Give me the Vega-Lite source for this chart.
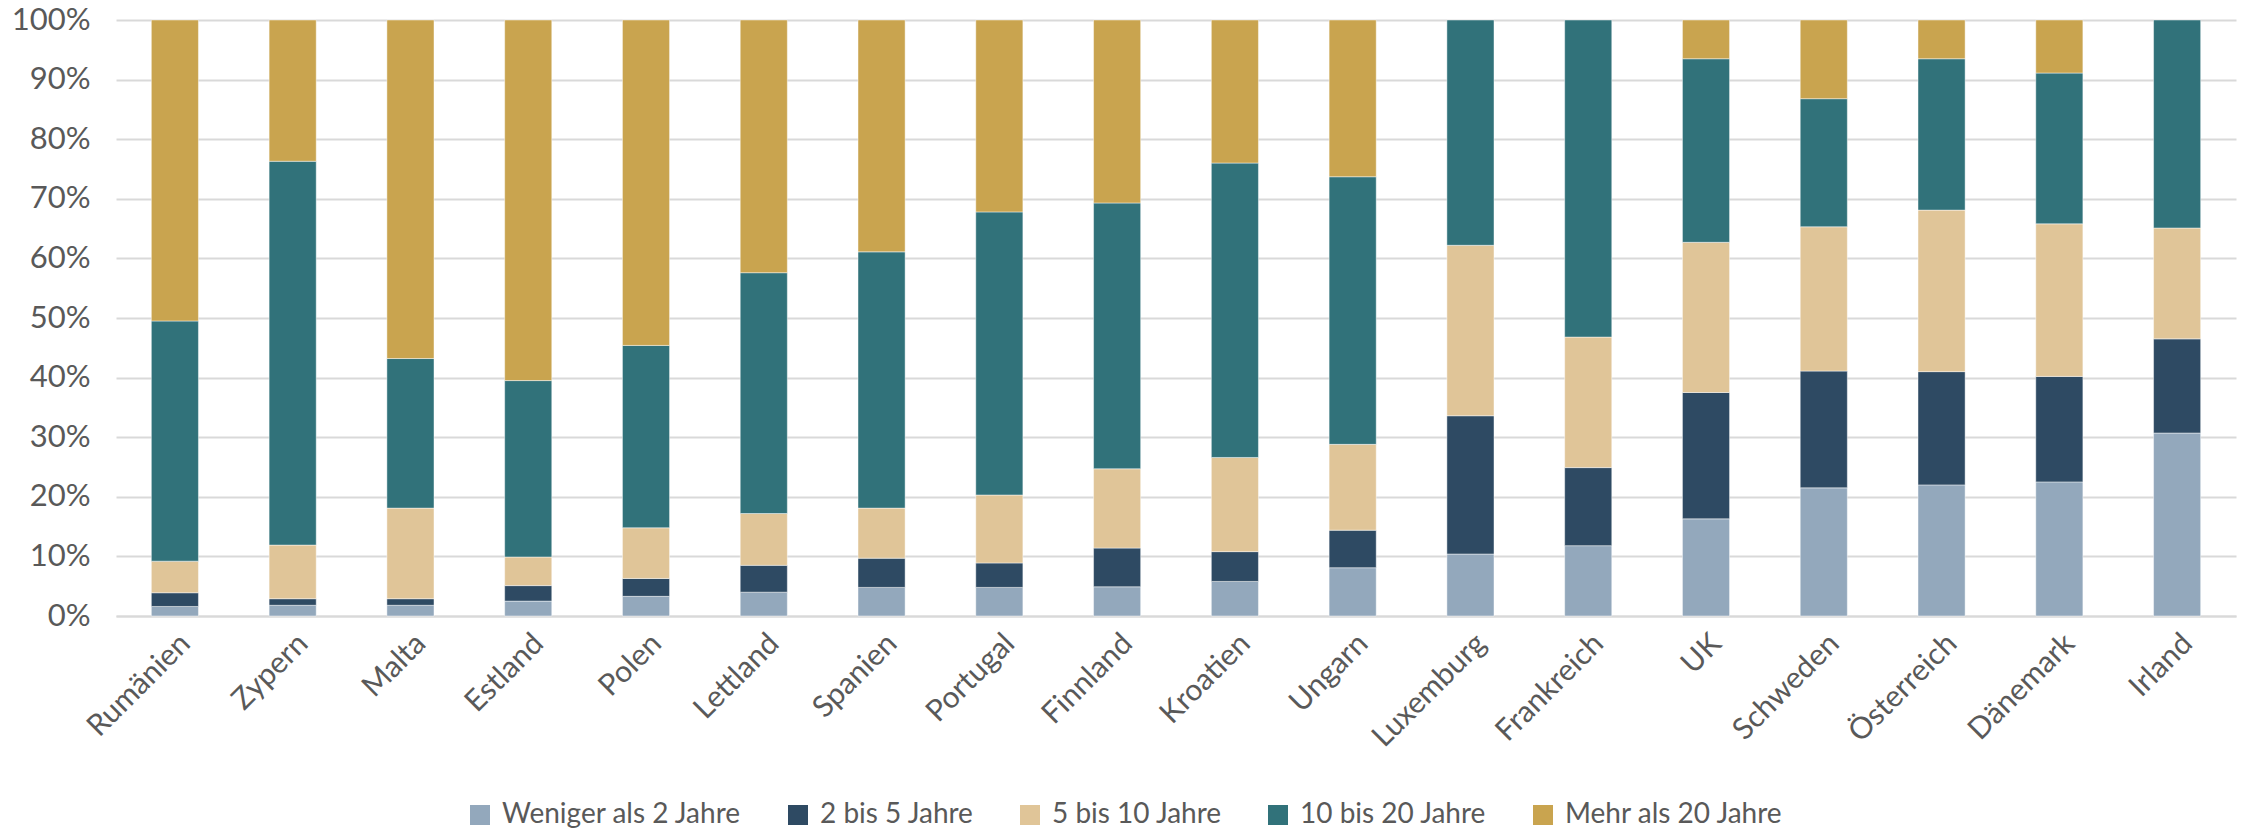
{
  "$schema": "https://vega.github.io/schema/vega-lite/v6.json",
  "width": 2120,
  "height": 596,
  "autosize": {"type": "none"},
  "padding": {"left": 116, "top": 20, "right": 10, "bottom": 214},
  "background": "white",
  "config": {"view": {"stroke": null}, "font": "Lato"},
  "data": {
    "values": [
      {"Land": "Rumänien", "Dauer": "Weniger als 2 Jahre", "Nr": 1, "Anteil": 1.6},
      {"Land": "Rumänien", "Dauer": "2 bis 5 Jahre", "Nr": 2, "Anteil": 2.3},
      {"Land": "Rumänien", "Dauer": "5 bis 10 Jahre", "Nr": 3, "Anteil": 5.3},
      {"Land": "Rumänien", "Dauer": "10 bis 20 Jahre", "Nr": 4, "Anteil": 40.3},
      {"Land": "Rumänien", "Dauer": "Mehr als 20 Jahre", "Nr": 5, "Anteil": 50.5},
      {"Land": "Zypern", "Dauer": "Weniger als 2 Jahre", "Nr": 1, "Anteil": 1.8},
      {"Land": "Zypern", "Dauer": "2 bis 5 Jahre", "Nr": 2, "Anteil": 1.1},
      {"Land": "Zypern", "Dauer": "5 bis 10 Jahre", "Nr": 3, "Anteil": 9.0},
      {"Land": "Zypern", "Dauer": "10 bis 20 Jahre", "Nr": 4, "Anteil": 64.4},
      {"Land": "Zypern", "Dauer": "Mehr als 20 Jahre", "Nr": 5, "Anteil": 23.7},
      {"Land": "Malta", "Dauer": "Weniger als 2 Jahre", "Nr": 1, "Anteil": 1.8},
      {"Land": "Malta", "Dauer": "2 bis 5 Jahre", "Nr": 2, "Anteil": 1.1},
      {"Land": "Malta", "Dauer": "5 bis 10 Jahre", "Nr": 3, "Anteil": 15.2},
      {"Land": "Malta", "Dauer": "10 bis 20 Jahre", "Nr": 4, "Anteil": 25.1},
      {"Land": "Malta", "Dauer": "Mehr als 20 Jahre", "Nr": 5, "Anteil": 56.8},
      {"Land": "Estland", "Dauer": "Weniger als 2 Jahre", "Nr": 1, "Anteil": 2.5},
      {"Land": "Estland", "Dauer": "2 bis 5 Jahre", "Nr": 2, "Anteil": 2.6},
      {"Land": "Estland", "Dauer": "5 bis 10 Jahre", "Nr": 3, "Anteil": 4.8},
      {"Land": "Estland", "Dauer": "10 bis 20 Jahre", "Nr": 4, "Anteil": 29.6},
      {"Land": "Estland", "Dauer": "Mehr als 20 Jahre", "Nr": 5, "Anteil": 60.5},
      {"Land": "Polen", "Dauer": "Weniger als 2 Jahre", "Nr": 1, "Anteil": 3.3},
      {"Land": "Polen", "Dauer": "2 bis 5 Jahre", "Nr": 2, "Anteil": 3.0},
      {"Land": "Polen", "Dauer": "5 bis 10 Jahre", "Nr": 3, "Anteil": 8.5},
      {"Land": "Polen", "Dauer": "10 bis 20 Jahre", "Nr": 4, "Anteil": 30.6},
      {"Land": "Polen", "Dauer": "Mehr als 20 Jahre", "Nr": 5, "Anteil": 54.6},
      {"Land": "Lettland", "Dauer": "Weniger als 2 Jahre", "Nr": 1, "Anteil": 4.0},
      {"Land": "Lettland", "Dauer": "2 bis 5 Jahre", "Nr": 2, "Anteil": 4.5},
      {"Land": "Lettland", "Dauer": "5 bis 10 Jahre", "Nr": 3, "Anteil": 8.7},
      {"Land": "Lettland", "Dauer": "10 bis 20 Jahre", "Nr": 4, "Anteil": 40.4},
      {"Land": "Lettland", "Dauer": "Mehr als 20 Jahre", "Nr": 5, "Anteil": 42.4},
      {"Land": "Spanien", "Dauer": "Weniger als 2 Jahre", "Nr": 1, "Anteil": 4.8},
      {"Land": "Spanien", "Dauer": "2 bis 5 Jahre", "Nr": 2, "Anteil": 4.9},
      {"Land": "Spanien", "Dauer": "5 bis 10 Jahre", "Nr": 3, "Anteil": 8.4},
      {"Land": "Spanien", "Dauer": "10 bis 20 Jahre", "Nr": 4, "Anteil": 43.0},
      {"Land": "Spanien", "Dauer": "Mehr als 20 Jahre", "Nr": 5, "Anteil": 38.9},
      {"Land": "Portugal", "Dauer": "Weniger als 2 Jahre", "Nr": 1, "Anteil": 4.8},
      {"Land": "Portugal", "Dauer": "2 bis 5 Jahre", "Nr": 2, "Anteil": 4.1},
      {"Land": "Portugal", "Dauer": "5 bis 10 Jahre", "Nr": 3, "Anteil": 11.4},
      {"Land": "Portugal", "Dauer": "10 bis 20 Jahre", "Nr": 4, "Anteil": 47.5},
      {"Land": "Portugal", "Dauer": "Mehr als 20 Jahre", "Nr": 5, "Anteil": 32.2},
      {"Land": "Finnland", "Dauer": "Weniger als 2 Jahre", "Nr": 1, "Anteil": 4.9},
      {"Land": "Finnland", "Dauer": "2 bis 5 Jahre", "Nr": 2, "Anteil": 6.5},
      {"Land": "Finnland", "Dauer": "5 bis 10 Jahre", "Nr": 3, "Anteil": 13.3},
      {"Land": "Finnland", "Dauer": "10 bis 20 Jahre", "Nr": 4, "Anteil": 44.6},
      {"Land": "Finnland", "Dauer": "Mehr als 20 Jahre", "Nr": 5, "Anteil": 30.7},
      {"Land": "Kroatien", "Dauer": "Weniger als 2 Jahre", "Nr": 1, "Anteil": 5.8},
      {"Land": "Kroatien", "Dauer": "2 bis 5 Jahre", "Nr": 2, "Anteil": 5.0},
      {"Land": "Kroatien", "Dauer": "5 bis 10 Jahre", "Nr": 3, "Anteil": 15.8},
      {"Land": "Kroatien", "Dauer": "10 bis 20 Jahre", "Nr": 4, "Anteil": 49.4},
      {"Land": "Kroatien", "Dauer": "Mehr als 20 Jahre", "Nr": 5, "Anteil": 24.0},
      {"Land": "Ungarn", "Dauer": "Weniger als 2 Jahre", "Nr": 1, "Anteil": 8.1},
      {"Land": "Ungarn", "Dauer": "2 bis 5 Jahre", "Nr": 2, "Anteil": 6.3},
      {"Land": "Ungarn", "Dauer": "5 bis 10 Jahre", "Nr": 3, "Anteil": 14.4},
      {"Land": "Ungarn", "Dauer": "10 bis 20 Jahre", "Nr": 4, "Anteil": 44.9},
      {"Land": "Ungarn", "Dauer": "Mehr als 20 Jahre", "Nr": 5, "Anteil": 26.3},
      {"Land": "Luxemburg", "Dauer": "Weniger als 2 Jahre", "Nr": 1, "Anteil": 10.4},
      {"Land": "Luxemburg", "Dauer": "2 bis 5 Jahre", "Nr": 2, "Anteil": 23.2},
      {"Land": "Luxemburg", "Dauer": "5 bis 10 Jahre", "Nr": 3, "Anteil": 28.6},
      {"Land": "Luxemburg", "Dauer": "10 bis 20 Jahre", "Nr": 4, "Anteil": 37.8},
      {"Land": "Frankreich", "Dauer": "Weniger als 2 Jahre", "Nr": 1, "Anteil": 11.8},
      {"Land": "Frankreich", "Dauer": "2 bis 5 Jahre", "Nr": 2, "Anteil": 13.1},
      {"Land": "Frankreich", "Dauer": "5 bis 10 Jahre", "Nr": 3, "Anteil": 21.9},
      {"Land": "Frankreich", "Dauer": "10 bis 20 Jahre", "Nr": 4, "Anteil": 53.2},
      {"Land": "UK", "Dauer": "Weniger als 2 Jahre", "Nr": 1, "Anteil": 16.3},
      {"Land": "UK", "Dauer": "2 bis 5 Jahre", "Nr": 2, "Anteil": 21.2},
      {"Land": "UK", "Dauer": "5 bis 10 Jahre", "Nr": 3, "Anteil": 25.2},
      {"Land": "UK", "Dauer": "10 bis 20 Jahre", "Nr": 4, "Anteil": 30.8},
      {"Land": "UK", "Dauer": "Mehr als 20 Jahre", "Nr": 5, "Anteil": 6.5},
      {"Land": "Schweden", "Dauer": "Weniger als 2 Jahre", "Nr": 1, "Anteil": 21.5},
      {"Land": "Schweden", "Dauer": "2 bis 5 Jahre", "Nr": 2, "Anteil": 19.6},
      {"Land": "Schweden", "Dauer": "5 bis 10 Jahre", "Nr": 3, "Anteil": 24.2},
      {"Land": "Schweden", "Dauer": "10 bis 20 Jahre", "Nr": 4, "Anteil": 21.5},
      {"Land": "Schweden", "Dauer": "Mehr als 20 Jahre", "Nr": 5, "Anteil": 13.2},
      {"Land": "Österreich", "Dauer": "Weniger als 2 Jahre", "Nr": 1, "Anteil": 22.0},
      {"Land": "Österreich", "Dauer": "2 bis 5 Jahre", "Nr": 2, "Anteil": 19.0},
      {"Land": "Österreich", "Dauer": "5 bis 10 Jahre", "Nr": 3, "Anteil": 27.1},
      {"Land": "Österreich", "Dauer": "10 bis 20 Jahre", "Nr": 4, "Anteil": 25.4},
      {"Land": "Österreich", "Dauer": "Mehr als 20 Jahre", "Nr": 5, "Anteil": 6.5},
      {"Land": "Dänemark", "Dauer": "Weniger als 2 Jahre", "Nr": 1, "Anteil": 22.5},
      {"Land": "Dänemark", "Dauer": "2 bis 5 Jahre", "Nr": 2, "Anteil": 17.7},
      {"Land": "Dänemark", "Dauer": "5 bis 10 Jahre", "Nr": 3, "Anteil": 25.6},
      {"Land": "Dänemark", "Dauer": "10 bis 20 Jahre", "Nr": 4, "Anteil": 25.3},
      {"Land": "Dänemark", "Dauer": "Mehr als 20 Jahre", "Nr": 5, "Anteil": 8.9},
      {"Land": "Irland", "Dauer": "Weniger als 2 Jahre", "Nr": 1, "Anteil": 30.7},
      {"Land": "Irland", "Dauer": "2 bis 5 Jahre", "Nr": 2, "Anteil": 15.8},
      {"Land": "Irland", "Dauer": "5 bis 10 Jahre", "Nr": 3, "Anteil": 18.6},
      {"Land": "Irland", "Dauer": "10 bis 20 Jahre", "Nr": 4, "Anteil": 34.9}
    ]
  },
  "mark": {"type": "bar", "stroke": "#ffffff", "strokeWidth": 0.75, "strokeOpacity": 0.6},
  "encoding": {
    "x": {
      "field": "Land", "type": "nominal", "sort": null,
      "scale": {"paddingInner": 0.6, "paddingOuter": 0.3},
      "axis": {"title": null, "labelAngle": -45, "labelFontSize": 30, "labelColor": "#595959", "ticks": false, "domainColor": "#D9D9D9", "domainWidth": 2, "labelPadding": 12, "labelLimit": 0}
    },
    "y": {
      "field": "Anteil", "type": "quantitative", "stack": "normalize",
      "scale": {"domain": [0, 1], "nice": false},
      "axis": {"title": null, "format": ".0%", "values": [0, 0.1, 0.2, 0.3, 0.4, 0.5, 0.6, 0.7, 0.8, 0.9, 1], "domain": false, "ticks": false, "gridColor": "#D9D9D9", "gridWidth": 2, "labelFontSize": 31, "labelColor": "#595959", "labelPadding": 26}
    },
    "color": {
      "field": "Dauer", "type": "nominal",
      "sort": ["Weniger als 2 Jahre", "2 bis 5 Jahre", "5 bis 10 Jahre", "10 bis 20 Jahre", "Mehr als 20 Jahre"],
      "scale": {
        "domain": ["Weniger als 2 Jahre", "2 bis 5 Jahre", "5 bis 10 Jahre", "10 bis 20 Jahre", "Mehr als 20 Jahre"],
        "range": ["#93A8BC", "#2E4A63", "#E0C598", "#31727A", "#C9A44F"]
      },
      "legend": {"title": null, "orient": "none", "direction": "horizontal", "columns": 5, "legendX": 350, "legendY": 781, "symbolType": "square", "symbolSize": 400, "symbolStrokeWidth": 0, "labelFontSize": 28, "labelColor": "#595959", "labelLimit": 0, "columnPadding": 42, "labelOffset": 8}
    },
    "order": {"field": "Nr", "type": "quantitative"}
  }
}
